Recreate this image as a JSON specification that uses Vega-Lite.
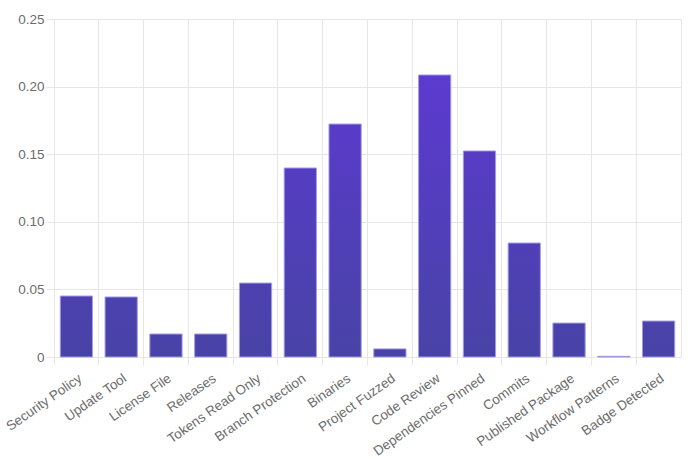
{
  "$schema": "https://vega.github.io/schema/vega-lite/v6.json",
  "autosize": "none",
  "padding": {"left": 54, "top": 19, "right": 19, "bottom": 102},
  "width": 627,
  "height": 338,
  "background": "white",
  "config": {
    "view": {"stroke": "#e6e6e6", "strokeWidth": 1},
    "axis": {
      "labelFont": "Liberation Sans",
      "labelFontSize": 13.5,
      "labelColor": "#6b6b6b",
      "gridColor": "#e6e6e6",
      "tickColor": "#e6e6e6",
      "tickSize": 8,
      "domain": false,
      "title": null
    }
  },
  "data": {
    "values": [
      {"check": "Security Policy", "score": 0.0451},
      {"check": "Update Tool", "score": 0.0444},
      {"check": "License File", "score": 0.017},
      {"check": "Releases", "score": 0.017},
      {"check": "Tokens Read Only", "score": 0.0547},
      {"check": "Branch Protection", "score": 0.1398},
      {"check": "Binaries", "score": 0.1723},
      {"check": "Project Fuzzed", "score": 0.006},
      {"check": "Code Review", "score": 0.2086},
      {"check": "Dependencies Pinned", "score": 0.1524},
      {"check": "Commits", "score": 0.0843},
      {"check": "Published Package", "score": 0.0251},
      {"check": "Workflow Patterns", "score": 0.0005},
      {"check": "Badge Detected", "score": 0.0266}
    ]
  },
  "transform": [
    {"calculate": "datum.score / 0.25", "as": "f"},
    {
      "calculate": "{gradient: 'linear', x1: 0, y1: 0, x2: 0, y2: 1, stops: [{offset: 0, color: 'rgb(' + round(72 + 24 * datum.f) + ',' + round(67 - 11 * datum.f) + ',' + round(166 + 50 * datum.f) + ')'}, {offset: 1, color: '#4843a6'}]}",
      "as": "grad"
    }
  ],
  "mark": {
    "type": "bar",
    "width": {"band": 0.72},
    "stroke": "#a59ce6",
    "strokeWidth": 1
  },
  "encoding": {
    "x": {
      "field": "check",
      "type": "nominal",
      "sort": null,
      "scale": {"paddingInner": 0, "paddingOuter": 0},
      "axis": {
        "labelAngle": -35,
        "labelAlign": "right",
        "labelBaseline": "top",
        "labelPadding": 6,
        "bandPosition": 0,
        "grid": true
      }
    },
    "y": {
      "field": "score",
      "type": "quantitative",
      "scale": {"domain": [0, 0.25], "nice": false},
      "axis": {
        "values": [0, 0.05, 0.1, 0.15, 0.2, 0.25],
        "labelExpr": "datum.value == 0 ? '0' : format(datum.value, '.2f')",
        "labelPadding": 2
      }
    },
    "fill": {"field": "grad", "scale": null}
  }
}
